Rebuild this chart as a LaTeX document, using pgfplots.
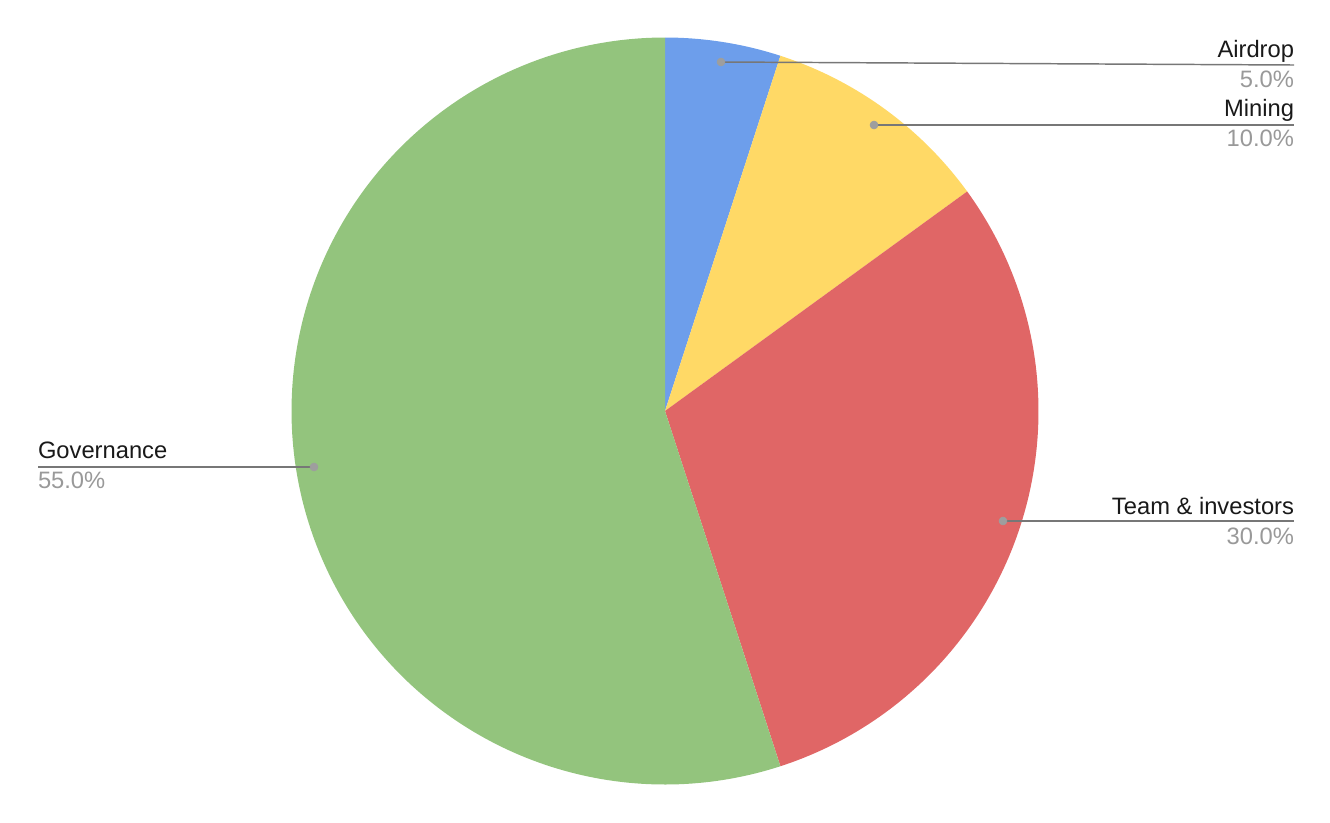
\documentclass[border=0pt]{standalone}
\usepackage{pgfplots}
\pgfplotsset{compat=1.18}
\usepackage{fontspec}
\setmainfont{Liberation Sans}
\definecolor{cAir}{HTML}{6D9EEB}
\definecolor{cMin}{HTML}{FFD966}
\definecolor{cTeam}{HTML}{E06666}
\definecolor{cGov}{HTML}{93C47D}
\definecolor{lineg}{HTML}{777777}
\definecolor{dotg}{HTML}{9E9E9E}
\definecolor{pctg}{HTML}{999999}
% shares (percent)
\def\vAir{5}
\def\vMin{10}
\def\vTeam{30}
\def\vGov{55}
\def\cx{665}
\def\cy{411}
\def\R{373.5}
\tikzset{lbl/.style={font=\fontsize{17.8}{20}\selectfont, inner sep=0pt, outer sep=0pt}}
\begin{document}
\begin{tikzpicture}
\pgfmathsetmacro\aA{90}
\pgfmathsetmacro\aB{90-3.6*\vAir}
\pgfmathsetmacro\aC{\aB-3.6*\vMin}
\pgfmathsetmacro\aD{\aC-3.6*\vTeam}
\pgfmathsetmacro\aE{\aD-3.6*\vGov}
\begin{axis}[
  width=997.5pt, height=616.5pt, scale only axis,
  xmin=0, xmax=1330, ymin=0, ymax=822, y dir=reverse,
  hide axis, clip=false,
]
\path (axis cs:0,0) rectangle (axis cs:1330,822);
\addplot[fill=cAir, draw=none, domain=\aB:\aA, samples=40, variable=\t]
  ({\cx+\R*cos(\t)},{\cy-\R*sin(\t)}) -- (axis cs:\cx,\cy) -- cycle;
\addplot[fill=cMin, draw=none, domain=\aC:\aB, samples=60, variable=\t]
  ({\cx+\R*cos(\t)},{\cy-\R*sin(\t)}) -- (axis cs:\cx,\cy) -- cycle;
\addplot[fill=cTeam, draw=none, domain=\aD:\aC, samples=120, variable=\t]
  ({\cx+\R*cos(\t)},{\cy-\R*sin(\t)}) -- (axis cs:\cx,\cy) -- cycle;
\addplot[fill=cGov, draw=none, domain=\aE:\aD, samples=200, variable=\t]
  ({\cx+\R*cos(\t)},{\cy-\R*sin(\t)}) -- (axis cs:\cx,\cy) -- cycle;
% leader lines
\addplot[lineg, line width=1.1pt, mark=none] coordinates {(721,62) (1294,65)};
\addplot[lineg, line width=1.1pt, mark=none] coordinates {(874,125) (1294,125)};
\addplot[lineg, line width=1.1pt, mark=none] coordinates {(1003,521) (1294,521)};
\addplot[lineg, line width=1.1pt, mark=none] coordinates {(38,467) (314,467)};
\addplot[only marks, mark=*, mark size=3pt, dotg, mark options={draw=dotg, fill=dotg}]
  coordinates {(721,62) (874,125) (1003,521) (314,467)};
% labels
\node[lbl, anchor=base east, text=black!90] at (axis cs:1294,57) {Airdrop};
\node[lbl, anchor=base east, text=pctg] at (axis cs:1294,87) {5.0\%};
\node[lbl, anchor=base east, text=black!90] at (axis cs:1294,116) {Mining};
\node[lbl, anchor=base east, text=pctg] at (axis cs:1294,146) {10.0\%};
\node[lbl, anchor=base east, text=black!90] at (axis cs:1294,514) {Team \& investors};
\node[lbl, anchor=base east, text=pctg] at (axis cs:1294,544) {30.0\%};
\node[lbl, anchor=base west, text=black!90] at (axis cs:38,458) {Governance};
\node[lbl, anchor=base west, text=pctg] at (axis cs:38,488) {55.0\%};
\end{axis}
\end{tikzpicture}
\end{document}
